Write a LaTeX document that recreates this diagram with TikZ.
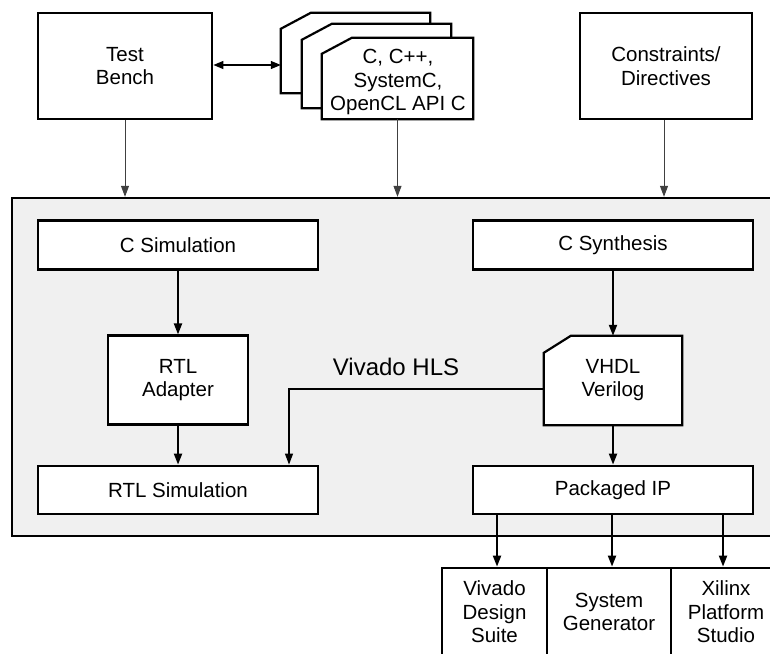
\documentclass[tikz,border=0pt]{standalone}
\usepackage{fontspec}
\setmainfont{Liberation Sans}
\usetikzlibrary{arrows.meta}
\definecolor{hlsgray}{HTML}{F0F0F0}
\begin{document}
\begin{tikzpicture}[x=1pt,y=-1pt,
  txt/.style={font=\fontsize{20.5}{23.5}\selectfont, align=center},
  box/.style={txt, draw, line width=2.8pt, fill=white, inner sep=0pt},
  ghost/.style={txt, inner sep=0pt},
  docshape/.style={draw, line width=2.2pt, fill=white},
  arr/.style={-{Triangle[length=11pt,width=8pt]}, line width=2pt},
  thinarr/.style={-{Triangle[length=11pt,width=8pt]}, line width=1pt, draw=black!75},
  darr/.style={{Triangle[length=10pt,width=8pt]}-{Triangle[length=10pt,width=8pt]}, line width=1.2pt}
]
\useasboundingbox (0,0) rectangle (770,653);
% outer HLS box
\node[draw, line width=2.4pt, fill=hlsgray, minimum width=770pt, minimum height=338pt, inner sep=0pt] (hls) at (397,367) {};
\node[font=\fontsize{24}{28}\selectfont] (hlslabel) at (396,367) {Vivado HLS};

% top boxes
\node[box, minimum width=174pt, minimum height=106pt] (tb) at (125,66) {Test\\Bench};
\node[box, minimum width=172pt, minimum height=106pt] (cons) at (666,66) {Constraints/\\Directives};

% stacked source docs
\node[ghost, minimum width=149pt, minimum height=80pt] (docA) at (355.5,53) {};
\node[ghost, minimum width=149pt, minimum height=84pt] (docB) at (376.5,66) {};
\node[ghost, minimum width=151pt, minimum height=81pt] (docC) at (397.5,78.5) {};
\foreach \d in {docA,docB,docC}{
  \draw[docshape] ([yshift=-16pt]\d.north west) -- ([xshift=30pt]\d.north west) -- (\d.north east) -- (\d.south east) -- (\d.south west) -- cycle;
}
\node[txt] (srctext) at (398,82) {C, C++,\\SystemC,\\OpenCL API C};

% inner boxes
\node[box, minimum width=280pt, minimum height=49pt] (csim) at (178,245) {C Simulation};
\node[box, minimum width=280pt, minimum height=49pt] (csyn) at (613,245) {C Synthesis};
\node[box, line width=2.2pt, minimum width=140pt, minimum height=89pt] (adapt) at (178,380) {RTL\\Adapter};
\node[box, minimum width=280pt, minimum height=48pt] (rtlsim) at (178,490) {RTL Simulation};
\node[box, minimum width=280pt, minimum height=48pt] (pip) at (613,490) {Packaged IP};

% VHDL doc
\node[ghost, minimum width=138pt, minimum height=89pt] (vhdl) at (613,380.5) {};
\draw[docshape] ([yshift=-17pt]vhdl.north west) -- ([xshift=27pt]vhdl.north west) -- (vhdl.north east) -- (vhdl.south east) -- (vhdl.south west) -- cycle;
\node[txt] (vhdltext) at (613,380) {VHDL\\Verilog};

% bottom tools
\node[box, minimum width=105pt, minimum height=88pt] (vds) at (494.5,612) {Vivado\\Design\\Suite};
\node[box, minimum width=124pt, minimum height=88pt] (sg) at (609,612) {System\\Generator};
\node[box, minimum width=110pt, minimum height=88pt] (xps) at (726,612) {Xilinx\\Platform\\Studio};

% connectors top
\draw[darr] (tb.east |- 0,65) -- (docA.west |- 0,65);
\draw[thinarr] (tb.south) -- (tb.south |- hls.north);
\draw[thinarr] (docC.south) -- (docC.south |- hls.north);
\draw[thinarr] ([xshift=-2pt]cons.south) -- ([xshift=-2pt]cons.south |- hls.north);

% inner connectors
\draw[arr] (csim.south) -- (adapt.north);
\draw[arr] (adapt.south) -- (rtlsim.north);
\draw[arr] (csyn.south) -- (vhdl.north);
\draw[arr] (vhdl.south) -- (pip.north);
\coordinate (kink) at (289,389);
\draw[thinarr, draw=black, line width=1.2pt] (vhdl.west |- kink) -- (kink) -- (kink |- rtlsim.north);

% outputs
\draw[arr] (pip.south -| 497,0) -- (vds.north -| 497,0);
\draw[arr] (pip.south -| 612,0) -- (sg.north -| 612,0);
\draw[arr] (pip.south -| 723,0) -- (xps.north -| 723,0);
\end{tikzpicture}
\end{document}
